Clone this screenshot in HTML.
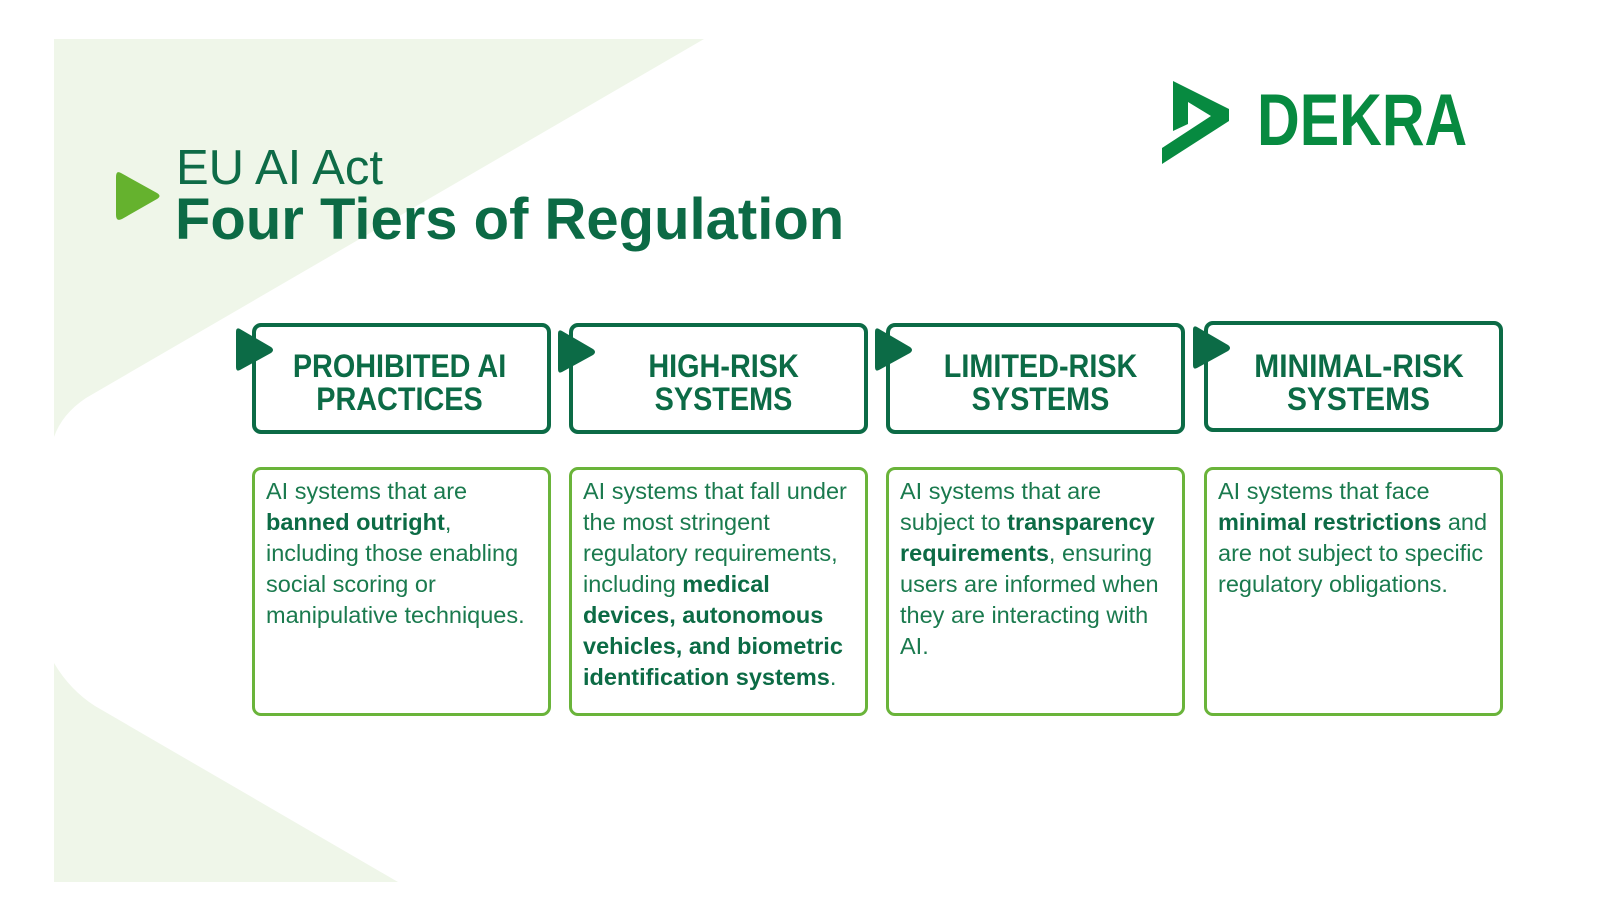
<!DOCTYPE html>
<html>
<head>
<meta charset="utf-8">
<style>
  html,body{margin:0;padding:0;}
  body{width:1600px;height:920px;position:relative;overflow:hidden;background:#ffffff;font-family:"Liberation Sans",sans-serif;}
  .abs{position:absolute;}
  .t1{left:176px;top:144px;font-size:49px;line-height:49px;color:#0e6b47;white-space:nowrap;}
  .t2{left:175px;top:191px;font-size:58px;line-height:58px;font-weight:bold;color:#0c6a45;white-space:nowrap;}
  .dekra{left:1257px;top:84px;font-size:73px;line-height:73px;font-weight:bold;color:#078a40;transform:scaleX(0.81);transform-origin:0 0;white-space:nowrap;}
  .hbox{position:absolute;width:299px;height:111px;box-sizing:border-box;border:4px solid #0c6b46;border-radius:9px;background:#fff;}
  .htxt{position:absolute;left:10px;right:0;top:23px;text-align:center;font-weight:bold;font-size:32px;line-height:32.5px;color:#0c6b46;white-space:nowrap;}
  .htxt span{display:inline-block;transform:scaleX(0.9);transform-origin:50% 50%;}
  .card{position:absolute;width:299px;height:249px;box-sizing:border-box;border:3.5px solid #6ab43a;border-radius:9px;background:#fff;}
  .ctxt{position:absolute;left:11px;top:6px;font-size:23.5px;line-height:31px;color:#1a7a4e;white-space:nowrap;}
  .ctxt b{color:#0c6b45;}
</style>
</head>
<body>
<svg class="abs" style="left:0;top:0" width="1600" height="920" viewBox="0 0 1600 920">
  <path d="M54,39 L704,39 L86,398 Q62,414 54,437 Z" fill="#eff6e9"/>
  <path d="M54,663 Q70,690 95,706 L398,882 L54,882 Z" fill="#eff6e9"/>
  <!-- green play icon -->
  <path d="M121,173 Q116,170 116,177 L116,215 Q116,222 122,219 L157,199 Q162,196 157,193 Z" fill="#65b22e"/>
  <!-- DEKRA mark -->
  <path d="M1173,81 L1229,109 L1229,121 L1162,164 L1162,148 L1211,116 L1188,102 L1188,124 L1173,131 Z" fill="#078a40"/>
</svg>

<div class="abs t1">EU AI Act</div>
<div class="abs t2">Four Tiers of Regulation</div>
<div class="abs dekra">DEKRA</div>

<!-- header boxes -->
<div class="hbox" style="left:252px;top:323px;"><div class="htxt" style="left:-4px;"><span>PROHIBITED AI</span><br><span>PRACTICES</span></div></div>
<div class="hbox" style="left:569px;top:323px;"><div class="htxt"><span>HIGH-RISK</span><br><span>SYSTEMS</span></div></div>
<div class="hbox" style="left:886px;top:323px;"><div class="htxt"><span>LIMITED-RISK</span><br><span>SYSTEMS</span></div></div>
<div class="hbox" style="left:1204px;top:321px;"><div class="htxt" style="top:25px;"><span style="transform:scaleX(0.935);">MINIMAL-RISK</span><br><span style="transform:scaleX(0.935);">SYSTEMS</span></div></div>

<!-- markers -->
<svg class="abs" style="left:0;top:0" width="1600" height="920" viewBox="0 0 1600 920">
  <g fill="#0c6b46">
    <path d="M240,329 Q236,327 236,332 L236,367 Q236,372 240,370 L271,353 Q275,350 271,347 Z"/>
    <path d="M562,331 Q558,329 558,334 L558,369 Q558,374 562,372 L593,355 Q597,352 593,349 Z"/>
    <path d="M879,329 Q875,327 875,332 L875,367 Q875,372 879,370 L910,353 Q914,350 910,347 Z"/>
    <path d="M1197,327 Q1193,325 1193,330 L1193,365 Q1193,370 1197,368 L1228,351 Q1232,348 1228,345 Z"/>
  </g>
</svg>

<!-- description cards -->
<div class="card" style="left:252px;top:467px;"><div class="ctxt">AI systems that are<br><b>banned outright</b>,<br>including those enabling<br>social scoring or<br>manipulative techniques.</div></div>
<div class="card" style="left:569px;top:467px;"><div class="ctxt">AI systems that fall under<br>the most stringent<br>regulatory requirements,<br>including <b>medical</b><br><b>devices, autonomous</b><br><b>vehicles, and biometric</b><br><b>identification systems</b>.</div></div>
<div class="card" style="left:886px;top:467px;"><div class="ctxt">AI systems that are<br>subject to <b>transparency</b><br><b>requirements</b>, ensuring<br>users are informed when<br>they are interacting with<br>AI.</div></div>
<div class="card" style="left:1204px;top:467px;"><div class="ctxt">AI systems that face<br><b>minimal restrictions</b> and<br>are not subject to specific<br>regulatory obligations.</div></div>
</body>
</html>
